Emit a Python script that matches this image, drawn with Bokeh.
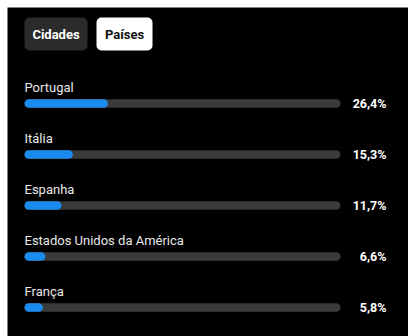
from bokeh.plotting import figure
from bokeh.models import Range1d, ColumnDataSource
from bokeh.core.properties import value
from bokeh.embed import file_html
from bokeh.resources import INLINE

# ---- data ----
countries = ["Portugal", "Itália", "Espanha", "Estados Unidos da América", "França"]
shares = [26.4, 15.3, 11.7, 6.6, 5.8]
share_labels = ["26,4%", "15,3%", "11,7%", "6,6%", "5,8%"]
tabs = ["Cidades", "Países"]

# ---- layout helpers (pixel -> data) ----
W, H = 408, 336
LEFT, TOP = 7, 7
FW, FH = W - LEFT, H - TOP
PX_PER_PCT = 3.16
TRACK_X0 = 24
ROW0_Y = 103
ROW_STEP = 51

x0 = -(TRACK_X0 - LEFT) / PX_PER_PCT
x1 = x0 + FW / PX_PER_PCT
y_end = (ROW0_Y - TOP) / ROW_STEP
y_start = y_end - FH / ROW_STEP

def dx(px):
    return (px - TRACK_X0) / PX_PER_PCT

def dy(py):
    return y_end - (py - TOP) / ROW_STEP

p = figure(width=W, height=H, output_backend="svg", toolbar_location=None,
           x_range=Range1d(x0, x1), y_range=Range1d(y_start, y_end),
           min_border_left=LEFT, min_border_top=TOP, min_border_right=0, min_border_bottom=0)
p.border_fill_color = "white"
p.background_fill_color = "#000000"
p.outline_line_color = None
p.axis.visible = False
p.grid.visible = False

rows = [-i for i in range(len(countries))]
src = ColumnDataSource(dict(
    country=countries, share=shares, label=share_labels, y=rows,
    full=[100] * len(countries),
    label_y=[r + 16 / ROW_STEP for r in rows],
    value_y=[r + 0.5 / ROW_STEP for r in rows],
    value_x=[dx(386)] * len(countries),
))

bh = 8.5 / ROW_STEP
p.hbar(y="y", left=0, right="full", height=bh, source=src, fill_color="#3a3a3a",
       line_color=None, border_radius=5)
p.hbar(y="y", left=0, right="share", height=bh, source=src, fill_color="#1a8cf0",
       line_color=None, border_radius=5)

p.text(x=0, y="label_y", text="country", source=src, text_font=value("Roboto"),
       text_font_size="13px", text_color="#e8e8e8", text_baseline="alphabetic",
       text_align="left")
p.text(x="value_x", y="value_y", text="label", source=src, text_font=value("Roboto"),
       text_font_size="12.5px", text_font_style="bold", text_color="#ffffff",
       text_baseline="alphabetic", text_align="right")

# ---- tabs ----
tab_src = ColumnDataSource(dict(
    tab=tabs,
    left=[dx(24), dx(96)], right=[dx(87), dx(152)],
    top=[dy(17)] * 2, bottom=[dy(50)] * 2,
    cx=[dx(55.5), dx(124)], cy=[dy(33.5)] * 2,
    fill=["#2b2b2b", "#ffffff"], tcol=["#ffffff", "#111111"],
))
p.quad(left="left", right="right", top="top", bottom="bottom", source=tab_src,
       fill_color="fill", line_color=None, border_radius=5)
p.text(x="cx", y="cy", text="tab", source=tab_src, text_font=value("Roboto"),
       text_font_size="13px", text_font_style="bold", text_color="tcol",
       text_align="center", text_baseline="middle")

open("out.html", "w").write(file_html(p, INLINE))
